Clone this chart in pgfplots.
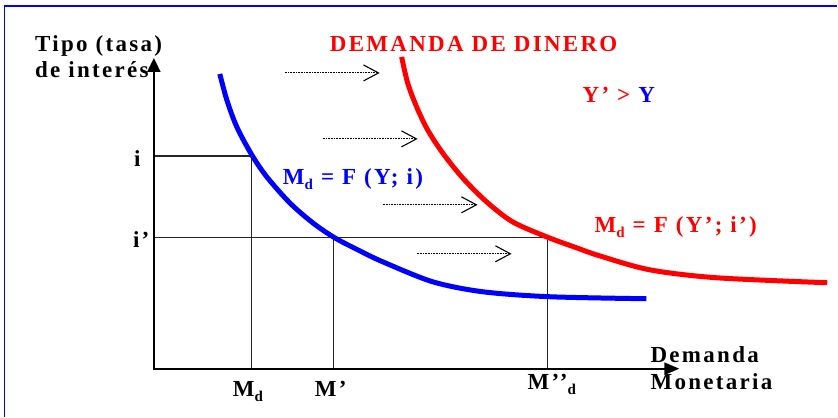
\documentclass[border=0pt]{standalone}
\usepackage{pgfplots}
\pgfplotsset{compat=1.18}
\usetikzlibrary{arrows.meta}
\usepackage{fontspec}
\newfontfamily\lbl[LetterSpace=10]{Liberation Serif}
\newcommand\sub[1]{\raisebox{-0.22em}{\fontsize{15}{15}\selectfont #1}}
\definecolor{pblue}{RGB}{0,0,255}
\definecolor{pred}{RGB}{255,0,0}
\tikzset{lab/.style={inner sep=0pt, anchor=base west, font=\lbl\bfseries\fontsize{23}{26}\selectfont}}

\begin{document}
\begin{tikzpicture}
\begin{axis}[
    width=838pt, height=417pt,
    scale only axis,
    xmin=0, xmax=838,
    ymin=0, ymax=417,
    y dir=reverse,
    hide axis,
    clip=false,
  ]
  % frame (top and left edge only)
  \path (axis cs:0,0) rectangle (axis cs:838,417);
  \draw[pblue, line width=1.5pt] (axis cs:4.7,417) -- (axis cs:4.7,6) -- (axis cs:838,6);

  % guide lines
  \addplot[black!85, line width=1.4pt] coordinates {(154,156) (252,156) (252,369)};
  \addplot[black!85, line width=1.4pt] coordinates {(154,238) (548,238)};
  \addplot[black!85, line width=1.4pt] coordinates {(334,238) (334,369)};
  \addplot[black!85, line width=1.4pt] coordinates {(548,238) (548,369)};

  % axes
  \addplot[black, line width=2.2pt, -{Triangle[length=14pt,width=13pt]}] coordinates {(154,370) (154,58)};
  \addplot[black, line width=2.2pt, -{Triangle[length=15pt,width=12pt]}] coordinates {(153,369) (680,369)};

  % demand curves
  \addplot[pblue, line width=5pt, smooth] coordinates {
    (220,74) (227,100) (237,127) (252,155) (267,177) (290,203)
    (313,223) (335,238) (360,251) (383,262) (433,282) (483,292)
    (550,297) (647,299)};
  \addplot[pred, line width=5pt, smooth] coordinates {
    (402,57) (408,83) (417,107) (428,130) (443,153) (463,178)
    (487,202) (513,222) (547,237) (577,248) (600,256) (650,270)
    (717,278) (828,283)};

  % shift arrows
  \addplot[black, line width=0.9pt, dash pattern=on 0.9pt off 0.7pt, -{Straight Barb[length=15pt,width=16pt,line width=1.1pt]}] coordinates {(285,73) (380,73)};
  \addplot[black, line width=0.9pt, dash pattern=on 0.9pt off 0.7pt, -{Straight Barb[length=15pt,width=16pt,line width=1.1pt]}] coordinates {(323,139) (418,139)};
  \addplot[black, line width=0.9pt, dash pattern=on 0.9pt off 0.7pt, -{Straight Barb[length=15pt,width=16pt,line width=1.1pt]}] coordinates {(383,205) (478,205)};
  \addplot[black, line width=0.9pt, dash pattern=on 0.9pt off 0.7pt, -{Straight Barb[length=15pt,width=16pt,line width=1.1pt]}] coordinates {(417,254) (512,254)};

  % texts
  \node[lab] at (axis cs:35,52) {Tipo (tasa)};
  \node[lab] at (axis cs:35,78) {de interés};
  \node[lab, text=pred] at (axis cs:330,52) {DEMANDA DE DINERO};
  \node[lab] at (axis cs:583,103) {\textcolor{pred}{Y’ >} \textcolor{pblue}{Y}};
  \node[lab, text=pblue] at (axis cs:283,185) {M\sub{d} = F (Y; i)};
  \node[lab, text=pred] at (axis cs:595,233) {M\sub{d} = F (Y’; i’)};
  \node[lab] at (axis cs:134,167) {i};
  \node[lab] at (axis cs:133,248) {i’};
  \node[lab] at (axis cs:233,397) {M\sub{d}};
  \node[lab] at (axis cs:315,397) {M’};
  \node[lab] at (axis cs:528,390) {M’’\sub{d}};
  \node[lab] at (axis cs:651,363) {Demanda};
  \node[lab] at (axis cs:651,390) {Monetaria};
\end{axis}
\end{tikzpicture}
\end{document}
